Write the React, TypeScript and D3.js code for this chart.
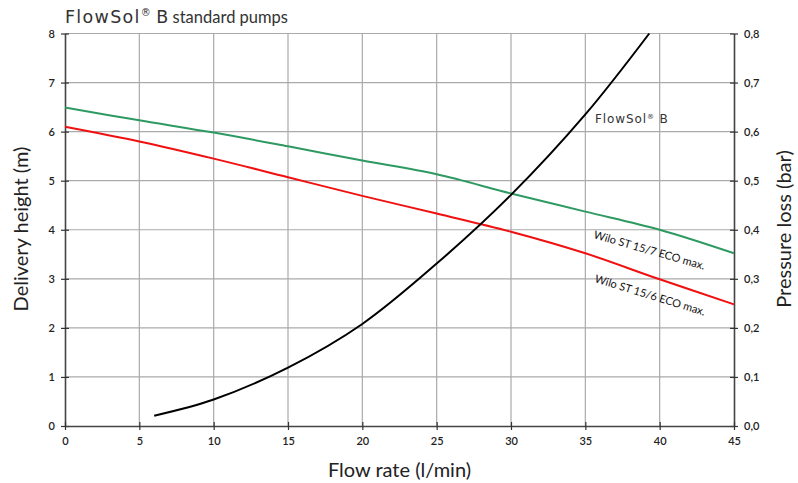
import * as d3 from "d3";
import { useEffect, useRef } from "react";

// flow rate in l/min
const flow = [0, 5, 10, 15, 20, 25, 30, 35, 40, 45];
// delivery height (m)
const wilo157 = [6.49, 6.23, 5.98, 5.7, 5.41, 5.13, 4.74, 4.37, 4.0, 3.52];
const wilo156 = [6.1, 5.8, 5.45, 5.07, 4.69, 4.33, 3.96, 3.52, 2.99, 2.48];
// pressure loss FlowSol B (bar)
const flowP = [6, 10, 15, 20, 25, 30, 35, 39.3];
const pressure = [0.021, 0.054, 0.119, 0.208, 0.331, 0.471, 0.635, 0.8];

const xTicks = [0, 5, 10, 15, 20, 25, 30, 35, 40, 45];
const yTicks = [0, 1, 2, 3, 4, 5, 6, 7, 8];
const pTicks = [0, 0.1, 0.2, 0.3, 0.4, 0.5, 0.6, 0.7, 0.8];

const W = 798;
const H = 483;
const geo = "'DejaVu Sans', sans-serif";
const gill = "Lato, 'Open Sans', sans-serif";

const App = () => {
  const svgRef = useRef<SVGSVGElement>(null);
  useEffect(() => {
    document.body.style.margin = "0";
    if (!svgRef.current) return;
    const svg = d3.select(svgRef.current);
    svg.selectAll("*").remove();

    const left = 65;
    const right = 734;
    const top = 33.5;
    const bottom = 426;

    const x = d3.scaleLinear().domain([0, 45]).range([left, right]);
    const y = d3.scaleLinear().domain([0, 8]).range([bottom, top]);
    const yP = d3.scaleLinear().domain([0, 0.8]).range([bottom, top]);

    // grid
    const grid = svg.append("g").attr("stroke", "#aaa").attr("stroke-width", 1.2);
    grid
      .selectAll("line.v")
      .data(xTicks.slice(1, -1))
      .join("line")
      .attr("x1", (d) => x(d))
      .attr("x2", (d) => x(d))
      .attr("y1", top)
      .attr("y2", bottom);
    grid
      .selectAll("line.h")
      .data(yTicks.slice(1))
      .join("line")
      .attr("x1", left)
      .attr("x2", right)
      .attr("y1", (d) => y(d))
      .attr("y2", (d) => y(d));

    // axes
    const axisLeft = d3
      .axisLeft(y)
      .tickValues(yTicks)
      .tickSizeInner(4)
      .tickSizeOuter(0)
      .tickPadding(6)
      .tickFormat((d) => String(d));
    const gl = svg.append("g").attr("transform", `translate(${left},0)`).call(axisLeft);

    const axisRight = d3
      .axisRight(yP)
      .tickValues(pTicks)
      .tickSizeInner(4)
      .tickSizeOuter(0)
      .tickPadding(6)
      .tickFormat((d) => (d as number).toFixed(1).replace(".", ","));
    const gr = svg.append("g").attr("transform", `translate(${right},0)`).call(axisRight);

    const axisBottom = d3
      .axisBottom(x)
      .tickValues(xTicks)
      .tickSizeInner(4)
      .tickSizeOuter(0)
      .tickPadding(5)
      .tickFormat((d) => String(d));
    const gb = svg.append("g").attr("transform", `translate(0,${bottom})`).call(axisBottom);

    [gl, gr, gb].forEach((g) => {
      g.select(".domain").attr("stroke", "#444").attr("stroke-width", 1.6);
      g.selectAll(".tick line").attr("stroke", "#333").attr("stroke-width", 1.2);
      g.selectAll(".tick text")
        .attr("font-family", gill)
        .attr("font-size", 11)
        .attr("font-weight", 600)
        .attr("fill", "#222");
    });
    // ticks crossing the axis
    gl.selectAll(".tick line").attr("x1", 4);
    gr.selectAll(".tick line").attr("x1", -4);
    gb.selectAll(".tick line").attr("y1", -4);
    gb.selectAll(".tick text").attr("dy", "0.9em");

    // curves
    const line = d3
      .line<[number, number]>()
      .x((d) => x(d[0]))
      .y((d) => y(d[1]))
      .curve(d3.curveCatmullRom.alpha(0.5));
    const lineP = d3
      .line<[number, number]>()
      .x((d) => x(d[0]))
      .y((d) => yP(d[1]))
      .curve(d3.curveCatmullRom.alpha(0.5));

    svg
      .append("path")
      .attr("d", line(flow.map((f, i) => [f, wilo157[i]]) as [number, number][]))
      .attr("fill", "none")
      .attr("stroke", "#2e9a62")
      .attr("stroke-width", 2);
    svg
      .append("path")
      .attr("d", line(flow.map((f, i) => [f, wilo156[i]]) as [number, number][]))
      .attr("fill", "none")
      .attr("stroke", "#f01010")
      .attr("stroke-width", 2);
    svg
      .append("path")
      .attr("d", lineP(flowP.map((f, i) => [f, pressure[i]]) as [number, number][]))
      .attr("fill", "none")
      .attr("stroke", "#000")
      .attr("stroke-width", 2);

    // curve labels
    const fl = svg
      .append("text")
      .attr("x", 595)
      .attr("y", 123)
      .attr("font-family", geo)
      .attr("font-size", 12)
      .attr("letter-spacing", 0.9)
      .attr("fill", "#333");
    fl.append("tspan").text("FlowSol");
    fl.append("tspan").attr("font-size", 7).attr("dy", -4).text("®");
    fl.append("tspan").attr("dy", 4).text(" B");

    svg
      .append("text")
      .attr("transform", "translate(593,238) rotate(16)")
      .attr("font-family", gill)
      .attr("font-size", 11)
      .attr("fill", "#111")
      .text("Wilo ST 15/7 ECO max.");
    svg
      .append("text")
      .attr("transform", "translate(594,282) rotate(17)")
      .attr("font-family", gill)
      .attr("font-size", 11)
      .attr("fill", "#111")
      .text("Wilo ST 15/6 ECO max.");

    // title
    const t = svg
      .append("text")
      .attr("x", 65)
      .attr("y", 23)
      .attr("font-family", geo)
      .attr("font-size", 17.5)
      .attr("fill", "#333");
    t.append("tspan").attr("letter-spacing", 1.3).text("FlowSol");
    t.append("tspan").attr("font-size", 10).attr("dy", -7).text("®");
    t.append("tspan").attr("dy", 7).text(" B");
    t.append("tspan").attr("font-family", gill).attr("font-size", 16.5).text(" standard pumps");

    // axis titles
    svg
      .append("text")
      .attr("transform", `translate(${(left + right) / 2},477)`)
      .attr("text-anchor", "middle")
      .attr("font-family", gill)
      .attr("font-size", 20)
      .attr("fill", "#222")
      .text("Flow rate (l/min)");
    svg
      .append("text")
      .attr("transform", `translate(28,229) rotate(-90)`)
      .attr("text-anchor", "middle")
      .attr("font-family", gill)
      .attr("font-size", 20)
      .attr("fill", "#222")
      .text("Delivery height (m)");
    svg
      .append("text")
      .attr("transform", `translate(791,229) rotate(-90)`)
      .attr("text-anchor", "middle")
      .attr("font-family", gill)
      .attr("font-size", 20)
      .attr("fill", "#222")
      .text("Pressure loss (bar)");
  }, []);
  return <svg ref={svgRef} width={W} height={H} style={{ display: "block", background: "#fff" }}></svg>;
};

export default App;
